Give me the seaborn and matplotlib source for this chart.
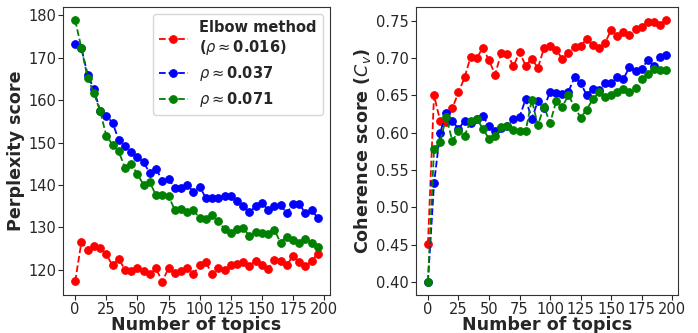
import matplotlib
matplotlib.use("Agg")
import matplotlib.pyplot as plt
import matplotlib.ticker as mticker
import seaborn as sns
import pandas as pd

# number of topics on the x axis
topics = list(range(0, 200, 5))

series_labels = [
    "Elbow method\n" + r"($\rho\approx$0.016)",
    r"$\rho\approx$0.037",
    r"$\rho\approx$0.071",
]
series_colors = ["red", "blue", "green"]

perplexity_elbow = [117.2, 126.5, 124.7, 125.5, 125.1, 123.6, 121.0, 122.5, 120.0, 119.6,
                    120.4, 119.7, 119.0, 120.3, 117.1, 120.4, 119.2, 119.7, 120.5, 119.0,
                    121.0, 121.7, 119.0, 120.4, 119.9, 121.0, 121.4, 121.8, 120.9, 122.1,
                    121.2, 120.2, 122.3, 122.1, 121.0, 123.3, 121.7, 120.8, 122.1, 123.8]
perplexity_037 = [173.3, 172.3, 166.0, 162.6, 157.5, 156.3, 154.7, 150.6, 149.2, 147.8,
                  146.6, 145.3, 142.8, 143.8, 141.0, 141.5, 139.2, 139.2, 140.0, 138.4,
                  139.6, 136.9, 137.0, 136.9, 137.3, 137.3, 136.1, 135.1, 133.6, 134.9,
                  135.8, 134.1, 134.9, 135.3, 133.3, 135.5, 135.5, 133.3, 134.0, 132.2]
perplexity_071 = [178.9, 172.3, 165.3, 161.7, 157.5, 151.6, 149.5, 147.9, 144.0, 145.0,
                  142.5, 140.0, 140.6, 137.5, 137.5, 137.4, 134.1, 134.4, 133.7, 134.1,
                  132.1, 132.0, 132.8, 131.4, 129.6, 128.6, 129.6, 129.8, 128.0, 128.9,
                  128.6, 128.3, 129.4, 126.4, 127.8, 127.0, 126.4, 127.3, 126.3, 125.3]

coherence_elbow = [0.451, 0.650, 0.616, 0.614, 0.633, 0.654, 0.674, 0.702, 0.700, 0.714,
                   0.697, 0.678, 0.707, 0.706, 0.689, 0.708, 0.690, 0.699, 0.687, 0.713,
                   0.716, 0.711, 0.699, 0.707, 0.715, 0.716, 0.726, 0.717, 0.713, 0.720,
                   0.738, 0.730, 0.735, 0.731, 0.739, 0.742, 0.748, 0.749, 0.745, 0.751]
coherence_037 = [0.400, 0.532, 0.600, 0.626, 0.616, 0.605, 0.616, 0.613, 0.619, 0.622,
                 0.609, 0.602, 0.606, 0.609, 0.619, 0.621, 0.645, 0.619, 0.642, 0.633,
                 0.655, 0.653, 0.652, 0.655, 0.674, 0.667, 0.650, 0.659, 0.657, 0.667,
                 0.666, 0.674, 0.672, 0.688, 0.683, 0.686, 0.697, 0.690, 0.702, 0.704]
coherence_071 = [0.400, 0.578, 0.588, 0.621, 0.589, 0.602, 0.596, 0.616, 0.619, 0.605,
                 0.592, 0.595, 0.607, 0.609, 0.604, 0.602, 0.602, 0.644, 0.610, 0.635,
                 0.613, 0.642, 0.635, 0.650, 0.635, 0.620, 0.631, 0.645, 0.654, 0.648,
                 0.650, 0.654, 0.659, 0.654, 0.660, 0.672, 0.679, 0.685, 0.684, 0.684]


def main():
    sns.set_style("ticks")
    plt.rcParams["font.family"] = ["DejaVu Sans"]

    fig, axes = plt.subplots(1, 2, figsize=(6.98, 3.33), dpi=100)
    axes[0].set_position([0.0903, 0.1141, 0.3825, 0.865])
    axes[1].set_position([0.596, 0.1141, 0.3754, 0.865])

    panels = [
        (axes[0], [perplexity_elbow, perplexity_037, perplexity_071], "Perplexity score"),
        (axes[1], [coherence_elbow, coherence_037, coherence_071], r"Coherence score ($C_v$)"),
    ]

    for ax, values, ylabel in panels:
        for vals, lab, col in zip(values, series_labels, series_colors):
            df = pd.DataFrame({"topics": topics, "score": vals})
            sns.lineplot(data=df, x="topics", y="score", ax=ax, color=col,
                         linestyle="--", marker="o", markersize=5.5,
                         markeredgecolor=col, linewidth=1.3, label=lab)
        ax.set_xlabel("Number of topics", fontsize=12.6, fontweight="bold", labelpad=-0.5)
        ax.set_ylabel(ylabel, fontsize=12.6, fontweight="bold", labelpad=2)
        ax.xaxis.set_major_locator(mticker.MultipleLocator(25))
        ax.tick_params(labelsize=10.5, length=3.5, pad=1.5)
        for sp in ax.spines.values():
            sp.set_color("#333333")

    axes[0].legend(loc="upper right", prop={"weight": "bold", "size": 10.5})
    axes[1].get_legend().remove()

    fig.savefig("out.png", dpi=100)


if __name__ == "__main__":
    main()
